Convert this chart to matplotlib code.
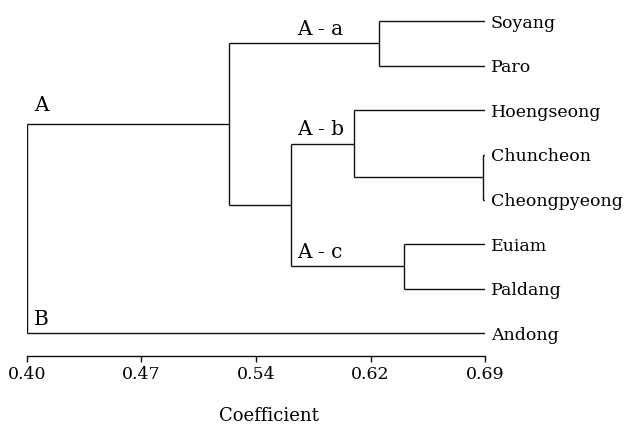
import numpy as np
import matplotlib
matplotlib.use("Agg")
import matplotlib.pyplot as plt

# ---- data ----
leaves = ["Soyang", "Paro", "Hoengseong", "Chuncheon", "Cheongpyeong",
          "Euiam", "Paldang", "Andong"]
leaf_coef = 0.69
# merges: (child_a, child_b, coefficient); new node ids start at len(leaves)
merge_a = [0, 3, 2, 5, 11, 8, 13]
merge_b = [1, 4, 9, 6, 10, 12, 7]
merge_coef = [0.623, 0.689, 0.607, 0.639, 0.567, 0.528, 0.40]
group_names = ["A", "B", "A - a", "A - b", "A - c"]
group_nodes = [13, 7, 8, 10, 11]
tick_values = [0.40, 0.4725, 0.545, 0.6175, 0.69]
tick_labels = ["0.40", "0.47", "0.54", "0.62", "0.69"]
xlabel = "Coefficient"

plt.rcParams['font.family'] = ['DejaVu Serif']

W, H = 625, 428
fig = plt.figure(figsize=(W / 100, H / 100), dpi=100)
ax = fig.add_axes([27 / W, 1 - 355.7 / H, (485 - 27) / W, (355.7 - 3.2) / H])

lc = "#111111"
tc = "#000000"
lw = 1.0

n = len(leaves)
xs = {i: leaf_coef for i in range(n)}
ys = {i: float(i) for i in range(n)}
parent_x = {}
for k, (a, b, c) in enumerate(zip(merge_a, merge_b, merge_coef)):
    node = n + k
    for ch in (a, b):
        ax.plot([xs[ch], c], [ys[ch], ys[ch]], color=lc, lw=lw, solid_capstyle='butt')
        parent_x[ch] = c
    ax.plot([c, c], [ys[a], ys[b]], color=lc, lw=lw, solid_capstyle='butt')
    xs[node] = c
    ys[node] = (ys[a] + ys[b]) / 2

for i, name in enumerate(leaves):
    ax.annotate(name, (leaf_coef, ys[i]), xytext=(4.2, 0), textcoords='offset points',
                ha='left', va='center_baseline', fontsize=12.5, color=tc)

# group labels
sub_x = xs[12]  # left edge of the A-b/A-c branch
for name, node in zip(group_names, group_nodes):
    px = parent_x[node]
    if node == 8:
        px = sub_x
    dy = 9.5 if node == 13 else 6.0
    ax.annotate(name, (px, ys[node]), xytext=(4.8, dy), textcoords='offset points',
                ha='left', va='baseline', fontsize=14.5, color=tc)

ax.set_xlim(0.40, 0.69)
ax.set_ylim(7.5, -0.4)
for s in ['top', 'right', 'left']:
    ax.spines[s].set_visible(False)
ax.spines['bottom'].set_linewidth(1.0)
ax.spines['bottom'].set_color(lc)
ax.set_yticks([])
ax.set_xticks(tick_values)
ax.set_xticklabels(tick_labels, fontsize=12.5, color=tc)
ax.tick_params(axis='x', direction='out', length=4.5, width=1.0, colors=lc, labelcolor=tc, pad=3)

fig.text(269 / W, 1 - 416 / H, xlabel, ha='center', va='center', fontsize=13, color=tc)

fig.savefig("out.png", dpi=100)
